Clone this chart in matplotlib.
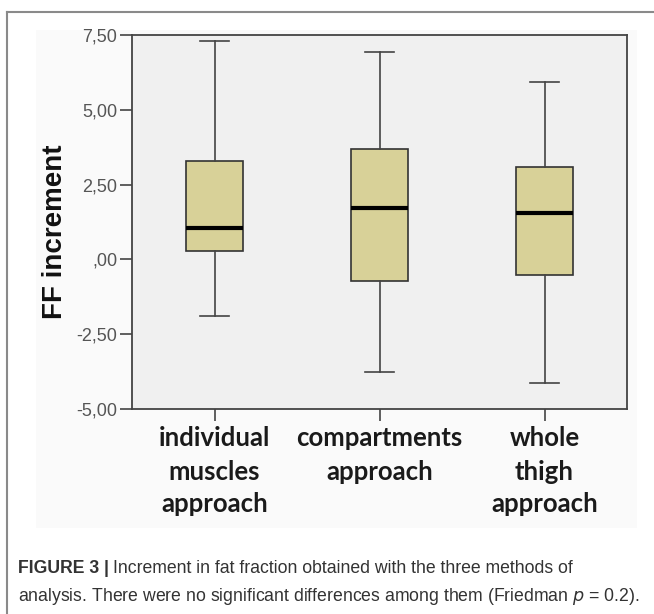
import matplotlib
matplotlib.use('Agg')
import matplotlib.pyplot as plt
from matplotlib.patches import Rectangle
from matplotlib.lines import Line2D

# ---- data ----
categories = ["individual\nmuscles\napproach", "compartments\napproach", "whole\nthigh\napproach"]
whisker_low = [-1.89, -3.76, -4.13]
q1 = [0.28, -0.72, -0.53]
median = [1.06, 1.71, 1.56]
q3 = [3.28, 3.68, 3.10]
whisker_high = [7.31, 6.92, 5.94]
ytick_values = [-5, -2.5, 0, 2.5, 5, 7.5]
ytick_labels = ["-5,00", "-2,50", ",00", "2,50", "5,00", "7,50"]
y_label = "FF increment"
caption_bold = "FIGURE 3 |"
caption_line1 = "Increment in fat fraction obtained with the three methods of"
caption_line2 = "analysis. There were no significant differences among them (Friedman $p$ = 0.2)."

W, H = 654, 614
fig = plt.figure(figsize=(W / 100, H / 100), dpi=100)
fig.patch.set_facecolor('white')


def fx(px):
    return px / W


def fy(py):
    return 1 - py / H


# light panel behind chart
fig.patches.append(Rectangle((fx(36), fy(528)), fx(637) - fx(36), fy(30) - fy(528),
                             transform=fig.transFigure, facecolor='#fafafa',
                             edgecolor='none', zorder=-10))
# outer frame lines
fig.lines.append(Line2D([fx(7), 1], [fy(12), fy(12)], transform=fig.transFigure,
                        color='#8a8a8a', lw=1.5))
fig.lines.append(Line2D([fx(7), fx(7)], [fy(12), 0], transform=fig.transFigure,
                        color='#8a8a8a', lw=1.5))

ax = fig.add_axes([fx(132), fy(409), fx(627) - fx(132), fy(35) - fy(409)])
ax.set_facecolor('#f0f0f0')

stats = []
for c, lo, a, m, b, hi in zip(categories, whisker_low, q1, median, q3, whisker_high):
    stats.append(dict(label=c, whislo=lo, q1=a, med=m, q3=b, whishi=hi, fliers=[]))

positions = [i + 0.5 for i in range(len(categories))]
ax.bxp(stats, positions=positions, widths=0.35, capwidths=0.18, patch_artist=True,
       showfliers=False,
       boxprops=dict(facecolor='#d8d198', edgecolor='#333333', linewidth=1.2),
       medianprops=dict(color='black', linewidth=3, solid_capstyle='butt'),
       whiskerprops=dict(color='#444444', linewidth=1.2),
       capprops=dict(color='#444444', linewidth=1.2))

ax.set_xlim(0, 3)
ax.set_ylim(-5, 7.5)
ax.set_yticks(ytick_values)
ax.set_yticklabels(ytick_labels, fontsize=13, family='Liberation Sans', color='#555555')
ax.set_xticks(positions)
ax.set_xticklabels(categories, fontsize=18.5, family='Lato', fontweight='bold',
                   color='#1a1a1a', linespacing=1.45)
ax.tick_params(axis='both', length=8.6, width=1.2, color='#444444')
ax.tick_params(axis='x', pad=4)
ax.tick_params(axis='y', pad=2)
for s in ax.spines.values():
    s.set_color('#444444')
    s.set_linewidth(1.3)

ax.set_ylabel(y_label, fontsize=20, fontweight='bold', family='Liberation Sans', color='#111111')
ax.yaxis.set_label_coords((68 - 132) / 495, (409 - 231.5) / 374)

# caption
cap_kw = dict(fontsize=12.7, family='Liberation Sans', color='#333333', va='baseline')
t1 = fig.text(fx(18), fy(573), caption_bold, fontweight='bold', **cap_kw)
fig.canvas.draw()
r = fig.canvas.get_renderer()
bb = t1.get_window_extent(renderer=r)
fig.text((bb.x1 + 4) / W, fy(573), caption_line1, **cap_kw)
fig.text(fx(18), fy(601), caption_line2, **cap_kw)

fig.savefig('out.png', dpi=100)
